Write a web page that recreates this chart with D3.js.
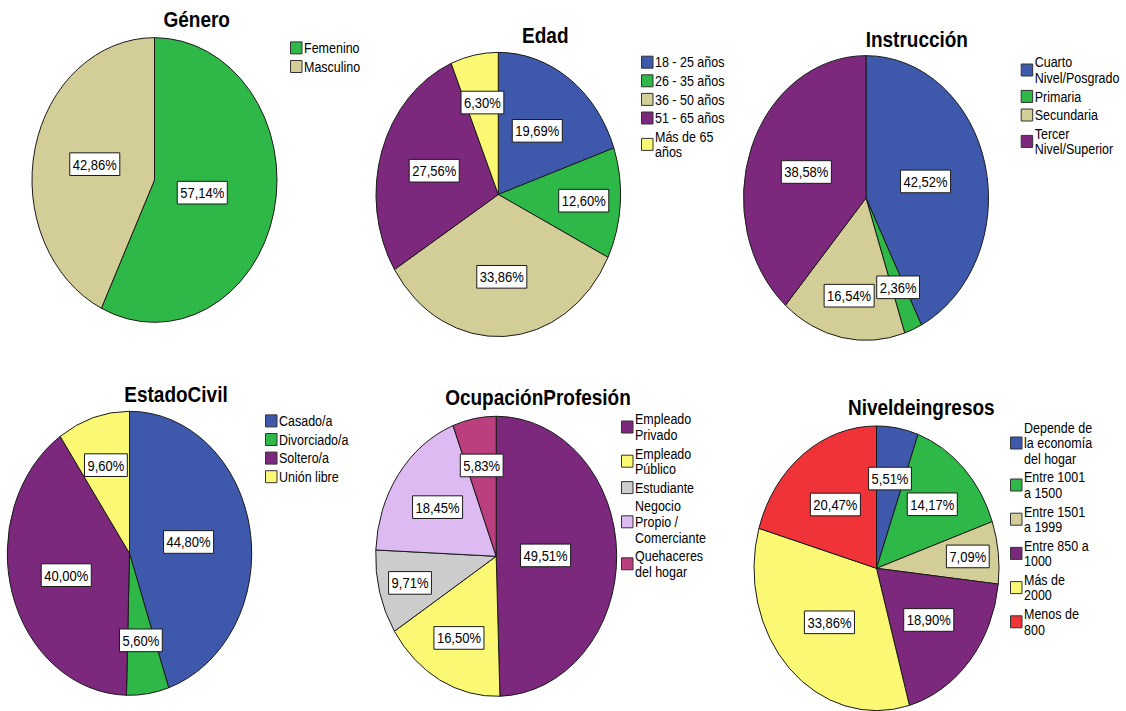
<!DOCTYPE html>
<html>
<head>
<meta charset="utf-8">
<script src="https://cdn.jsdelivr.net/npm/d3@7"></script>
<style>
  html, body { margin: 0; padding: 0; background: #fff; }
  svg { display: block; }
  text { font-family: "Liberation Sans", Arial, Helvetica, sans-serif; fill: #000; }
</style>
</head>
<body>
<svg id="chart" width="1126" height="711"></svg>
<script>
// ---- Data: categories and percentages per variable ----
const generoCats = ["Femenino", "Masculino"];
const generoVals = [57.14, 42.86];

const edadCats = ["18 - 25 años", "26 - 35 años", "36 - 50 años", "51 - 65 años", "Más de 65\naños"];
const edadVals = [19.69, 12.60, 33.86, 27.56, 6.30];

const instruccionCats = ["Cuarto\nNivel/Posgrado", "Primaria", "Secundaria", "Tercer\nNivel/Superior"];
const instruccionVals = [42.52, 2.36, 16.54, 38.58];

const civilCats = ["Casado/a", "Divorciado/a", "Soltero/a", "Unión libre"];
const civilVals = [44.80, 5.60, 40.00, 9.60];

const ocupacionCats = ["Empleado\nPrivado", "Empleado\nPúblico", "Estudiante", "Negocio\nPropio /\nComerciante", "Quehaceres\ndel hogar"];
const ocupacionVals = [49.51, 16.50, 9.71, 18.45, 5.83];

const ingresosCats = ["Depende de\nla economía\ndel hogar", "Entre 1001\na 1500", "Entre 1501\na 1999", "Entre 850 a\n1000", "Más de\n2000", "Menos de\n800"];
const ingresosVals = [5.51, 14.17, 7.09, 18.90, 33.86, 20.47];

// ---- Palette ----
const BLUE = "#3e58ac", GREEN = "#2eb848", TAN = "#d3ce97", PURPLE = "#7c287d",
      YELLOW = "#fbf873", RED = "#ef3338", GREY = "#cccccc", LILAC = "#ddbaf1", PINK = "#bb3f7f";

// Vertical stretch applied to each panel (pies are drawn slightly taller than wide)
const K = 1.162;

// ---- Panel layout ----
const panels = [
  { title: "Género", cats: generoCats, vals: generoVals, colors: [GREEN, TAN],
    cx: 154.5, cy: 180, r: 122.5, titleX: 196.7, titleY: 26.7,
    legX: 290, legY: 47.9, labelR: [0.40, 0.50] },
  { title: "Edad", cats: edadCats, vals: edadVals, colors: [BLUE, GREEN, TAN, PURPLE, YELLOW],
    cx: 498.3, cy: 194.5, r: 122.3, titleX: 545.3, titleY: 43.3,
    legX: 641, legY: 62.2, labelR: [0.55, 0.70, 0.58, 0.55, 0.66] },
  { title: "Instrucción", cats: instruccionCats, vals: instruccionVals, colors: [BLUE, GREEN, TAN, PURPLE],
    cx: 866, cy: 198, r: 122.5, titleX: 916.8, titleY: 46.7,
    legX: 1020.7, legY: 70, labelR: [0.50, 0.68, 0.70, 0.52] },
  { title: "EstadoCivil", cats: civilCats, vals: civilVals, colors: [BLUE, GREEN, PURPLE, YELLOW],
    cx: 129.5, cy: 553.3, r: 122.2, titleX: 176, titleY: 401.7,
    legX: 265, legY: 420.9, labelR: [0.49, 0.62, 0.54, 0.65] },
  { title: "OcupaciónProfesión", cats: ocupacionCats, vals: ocupacionVals, colors: [PURPLE, YELLOW, GREY, LILAC, PINK],
    cx: 496.2, cy: 556.3, r: 120.5, titleX: 538, titleY: 405,
    legX: 621, legY: 427, labelR: [0.41, 0.66, 0.74, 0.60, 0.66] },
  { title: "Niveldeingresos", cats: ingresosCats, vals: ingresosVals, colors: [BLUE, GREEN, TAN, PURPLE, YELLOW, RED],
    cx: 876.5, cy: 568.3, r: 122.5, titleX: 921.3, titleY: 415,
    legX: 1010, legY: 443, labelR: [0.64, 0.64, 0.75, 0.56, 0.54, 0.56] }
];

const svg = d3.select("#chart");
const pie = d3.pie().sort(null).value(d => d);
const fmt = v => v.toFixed(2).replace(".", ",") + "%";

const LEG_FONT = 12.5; // legend font size (px, before stretch)
const LINE_H = 15.6;   // legend line pitch (screen px)
const ITEM_GAP = 3;    // gap between legend items (screen px)

panels.forEach(p => {
  const arcs = pie(p.vals);
  const arc = d3.arc().innerRadius(0).outerRadius(p.r);

  // Pie
  const g = svg.append("g")
    .attr("transform", `translate(${p.cx},${p.cy}) scale(1,${K})`);

  g.selectAll("path.slice")
    .data(arcs)
    .join("path")
    .attr("class", "slice")
    .attr("d", arc)
    .attr("fill", (d, i) => p.colors[i])
    .attr("stroke", "#1a1a1a")
    .attr("stroke-width", 1)
    .attr("vector-effect", "non-scaling-stroke");

  // Value labels in white boxes
  const lab = g.selectAll("g.lab")
    .data(arcs)
    .join("g")
    .attr("class", "lab")
    .attr("transform", (d, i) => {
      const a = (d.startAngle + d.endAngle) / 2;
      const rr = p.r * p.labelR[i];
      return `translate(${Math.sin(a) * rr},${-Math.cos(a) * rr})`;
    });

  lab.append("rect")
    .attr("fill", "#fff")
    .attr("stroke", "#1a1a1a")
    .attr("stroke-width", 1)
    .attr("vector-effect", "non-scaling-stroke");

  lab.append("text")
    .attr("text-anchor", "middle")
    .attr("y", 4.6)
    .style("font-size", "13px")
    .text(d => fmt(d.data));

  lab.each(function () {
    const t = d3.select(this).select("text").node();
    const w = t.getComputedTextLength() + 6;
    const h = 19.5;
    d3.select(this).select("rect")
      .attr("x", -w / 2).attr("y", -h / 2)
      .attr("width", w).attr("height", h);
  });

  // Title
  svg.append("g")
    .attr("transform", `translate(${p.titleX},${p.titleY}) scale(1,${K})`)
    .append("text")
    .attr("text-anchor", "middle")
    .style("font-size", "19px")
    .style("font-weight", "bold")
    .text(p.title);

  // Legend
  const items = p.cats.map((c, i) => ({ lines: c.split("\n"), color: p.colors[i] }));
  let top = p.legY - (items[0].lines.length * LINE_H) / 2;
  items.forEach(it => {
    const h = it.lines.length * LINE_H;
    const center = top + h / 2;
    const lg = svg.append("g")
      .attr("transform", `translate(${p.legX},${center}) scale(1,${K})`);
    lg.append("rect")
      .attr("x", 0.5).attr("y", -12 / K / 2)
      .attr("width", 11.5).attr("height", 12 / K)
      .attr("fill", it.color)
      .attr("stroke", "#333")
      .attr("stroke-width", 1)
      .attr("vector-effect", "non-scaling-stroke");
    it.lines.forEach((ln, j) => {
      const off = (j - (it.lines.length - 1) / 2) * LINE_H / K;
      lg.append("text")
        .attr("x", 14)
        .attr("y", off + 4.4)
        .style("font-size", LEG_FONT + "px")
        .text(ln);
    });
    top += h + ITEM_GAP;
  });
});
</script>
</body>
</html>
